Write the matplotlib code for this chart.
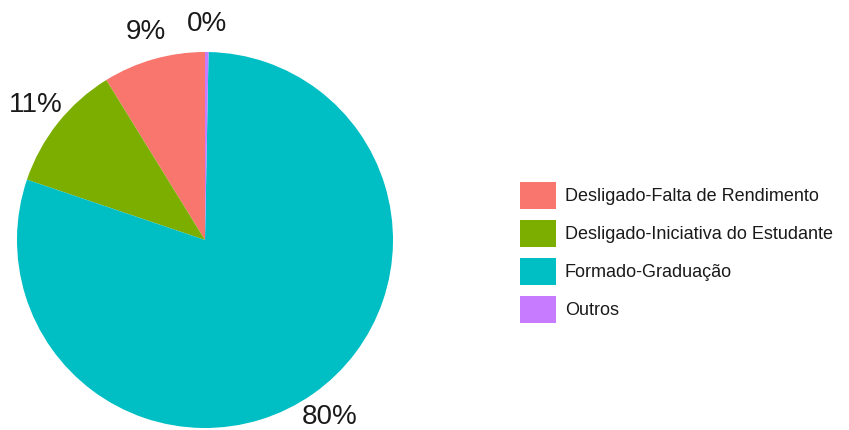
import matplotlib
matplotlib.use("Agg")
import matplotlib.pyplot as plt
from matplotlib.patches import Patch

plt.rcParams['font.family'] = ['Liberation Sans', 'DejaVu Sans']

categorias = ['Desligado-Falta de Rendimento', 'Desligado-Iniciativa do Estudante',
              'Formado-Graduação', 'Outros']
valores = [8.8, 11.0, 79.9, 0.3]
rotulos = ['9%', '11%', '80%', '0%']
cores = ['#F8766D', '#7CAE00', '#00BFC4', '#C77CFF']

W, H = 849, 430
fig = plt.figure(figsize=(W / 100, H / 100), dpi=100)

# pie area in pixels: center (205, 240), radius 188
cx, cy, r = 205, 240, 188
ax = fig.add_axes([(cx - r) / W, (H - cy - r) / H, 2 * r / W, 2 * r / H])
wedges, texts = ax.pie(valores, colors=cores, labels=rotulos, startangle=90,
                       counterclock=True, radius=1, labeldistance=1.15,
                       wedgeprops=dict(linewidth=0),
                       textprops=dict(fontsize=20, color='#1a1a1a', ha='center', va='center'))
for t in texts:
    t.set_clip_on(False)
    t.set_ha('center')
ax.set_xlim(-1, 1)
ax.set_ylim(-1, 1)
ax.axis('off')

fs = 13
fpx = fs * 100 / 72
# legend handle box height = fs*(0.65*hh + 0.245)
hh = (27 / fpx - 0.245) / 0.65
handles = [Patch(facecolor=c, edgecolor='none') for c in cores]
fig.legend(handles, categorias, loc='upper left',
           bbox_to_anchor=(520 / W, 1 - 182 / H), frameon=False,
           fontsize=fs, borderpad=0, borderaxespad=0,
           handlelength=36 / fpx, handleheight=hh,
           labelspacing=(38 - 27) / fpx, handletextpad=9 / fpx,
           labelcolor='#1a1a1a')

fig.savefig('out.png', dpi=100)
